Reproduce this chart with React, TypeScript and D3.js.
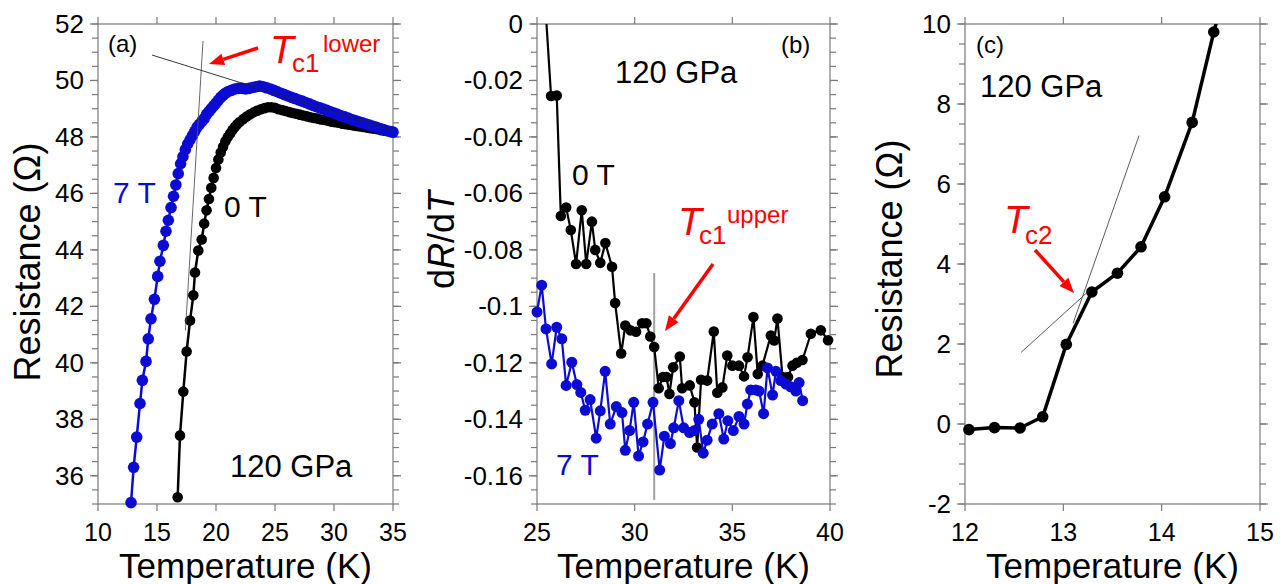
import React from 'react';
import * as d3 from 'd3';

const FONT = '"Liberation Sans", Arial, Helvetica, sans-serif';
const BLUE = '#0b0bd4';
const RED = '#ff0000';
const FRAME = '#7a7a7a';
const TOP = 24;
const BOTTOM = 504;

// ---- panel (a): R(T) at 120 GPa, [T (K), R (ohm)]
const a7T: [number, number][] = [
  [12.8, 35.05], [13.02, 36.3], [13.28, 37.37], [13.56, 38.56], [13.76, 39.38], [14.07, 40.05],
  [14.26, 40.85], [14.49, 41.56], [14.78, 42.25], [15.06, 43.06], [15.25, 43.6], [15.54, 44.16],
  [15.76, 44.66], [15.96, 45.05], [16.19, 45.5], [16.4, 45.9], [16.6, 46.3], [16.8, 46.7],
  [17.0, 47.05], [17.2, 47.3], [17.4, 47.55], [17.6, 47.75], [17.8, 47.9], [18.0, 48.05],
  [18.2, 48.2], [18.4, 48.35], [18.6, 48.45], [18.8, 48.55], [19.0, 48.65], [19.2, 48.8],
  [19.4, 48.9], [19.6, 49.0], [19.8, 49.1], [20.0, 49.2], [20.2, 49.3], [20.4, 49.4],
  [20.6, 49.48], [20.8, 49.55], [21.0, 49.6], [21.3, 49.65], [21.6, 49.7], [21.9, 49.72],
  [22.2, 49.72], [22.5, 49.7], [22.8, 49.72], [23.1, 49.75], [23.4, 49.78], [23.7, 49.8],
  [24.0, 49.78], [24.3, 49.74], [24.6, 49.7], [24.9, 49.65], [25.2, 49.6], [25.5, 49.55],
  [25.8, 49.5], [26.1, 49.45], [26.4, 49.4], [26.7, 49.36], [27.0, 49.31], [27.3, 49.27],
  [27.6, 49.22], [27.9, 49.17], [28.2, 49.12], [28.5, 49.07], [28.8, 49.03], [29.1, 48.99],
  [29.4, 48.94], [29.7, 48.89], [30.0, 48.85], [30.3, 48.8], [30.6, 48.75], [30.9, 48.71],
  [31.2, 48.67], [31.5, 48.62], [31.8, 48.58], [32.1, 48.54], [32.4, 48.5], [32.7, 48.46],
  [33.0, 48.42], [33.3, 48.38], [33.6, 48.34], [33.9, 48.3], [34.2, 48.26], [34.5, 48.22],
  [34.8, 48.19], [35.0, 48.17],
];
const a0T: [number, number][] = [
  [16.75, 35.24], [16.95, 37.43], [17.23, 38.98], [17.51, 40.4], [17.8, 41.5], [18.08, 42.39],
  [18.22, 43.2], [18.5, 43.98], [18.79, 44.37], [19.0, 44.93], [19.2, 45.4], [19.4, 45.8],
  [19.6, 46.2], [19.8, 46.55], [20.0, 46.9], [20.2, 47.2], [20.4, 47.45], [20.6, 47.65],
  [20.8, 47.85], [21.0, 48.0], [21.2, 48.12], [21.4, 48.25], [21.6, 48.35], [21.8, 48.45],
  [22.0, 48.53], [22.3, 48.63], [22.6, 48.72], [22.9, 48.8], [23.2, 48.87], [23.5, 48.93],
  [23.8, 48.98], [24.1, 49.02], [24.4, 49.05], [24.7, 49.05], [25.0, 49.03], [25.3, 48.98],
  [25.6, 48.95], [25.9, 48.92], [26.2, 48.88], [26.5, 48.85], [26.8, 48.82], [27.1, 48.79],
  [27.4, 48.76], [27.7, 48.73], [28.0, 48.7], [28.3, 48.67], [28.6, 48.65], [28.9, 48.62],
  [29.2, 48.6], [29.5, 48.57], [29.8, 48.54], [30.1, 48.52], [30.4, 48.5], [30.7, 48.47],
  [31.0, 48.45], [31.3, 48.43], [31.6, 48.41], [31.9, 48.39], [32.2, 48.37], [32.5, 48.35],
  [32.8, 48.33], [33.1, 48.31], [33.4, 48.29], [33.7, 48.27], [34.0, 48.24], [34.3, 48.22],
  [34.6, 48.2], [35.0, 48.17],
];
// tangent construction lines for Tc1 lower
const aSteep: [number, number][] = [[18.9, 51.4], [17.41, 41.15]];
const aFlat: [number, number][] = [[14.58, 50.9], [35, 48.24]];

// ---- panel (b): dR/dT, [T (K), dR/dT]
const b0T: [number, number][] = [
  [25.45, 0.004], [25.72, -0.0255], [26.01, -0.0253], [26.22, -0.068], [26.49, -0.065],
  [26.73, -0.073], [27.0, -0.085], [27.29, -0.066], [27.52, -0.085], [27.81, -0.07],
  [27.98, -0.08], [28.24, -0.0846], [28.5, -0.0776], [28.84, -0.086], [29.0, -0.0988],
  [29.31, -0.1167], [29.52, -0.1068], [29.78, -0.1085], [30.07, -0.109], [30.38, -0.106],
  [30.6, -0.106], [30.8, -0.1107], [31.0, -0.1144], [31.23, -0.129], [31.45, -0.125],
  [31.63, -0.125], [31.78, -0.131], [31.97, -0.1216], [32.31, -0.1178], [32.43, -0.129],
  [32.82, -0.128], [33.06, -0.134], [33.2, -0.15], [33.4, -0.126], [33.71, -0.1263],
  [34.05, -0.1089], [34.23, -0.1306], [34.49, -0.1287], [34.74, -0.1174], [35.0, -0.121],
  [35.34, -0.121], [35.6, -0.1248], [35.78, -0.118], [36.08, -0.1038], [36.3, -0.124],
  [36.54, -0.121], [36.97, -0.1103], [37.14, -0.1121], [37.31, -0.1043], [37.57, -0.125],
  [37.85, -0.125], [38.08, -0.121], [38.3, -0.12], [38.59, -0.119], [39.02, -0.1097],
  [39.53, -0.1085], [39.9, -0.112],
];
const b7T: [number, number][] = [
  [25.0, -0.102], [25.24, -0.0925], [25.46, -0.108], [25.75, -0.1204], [26.01, -0.1074],
  [26.27, -0.1115], [26.49, -0.128], [26.78, -0.1198], [27.04, -0.1277], [27.24, -0.1305],
  [27.47, -0.1368], [27.72, -0.133], [28.03, -0.1467], [28.24, -0.137], [28.49, -0.123],
  [28.75, -0.1417], [29.06, -0.1355], [29.35, -0.1376], [29.52, -0.151], [29.74, -0.144],
  [29.95, -0.134], [30.2, -0.153], [30.43, -0.148], [30.66, -0.1417], [30.94, -0.134],
  [31.28, -0.158], [31.52, -0.146], [31.83, -0.1486], [32.0, -0.143], [32.26, -0.1334],
  [32.51, -0.143], [32.81, -0.1447], [33.06, -0.144], [33.28, -0.14], [33.51, -0.152],
  [33.71, -0.1474], [33.97, -0.1417], [34.31, -0.138], [34.56, -0.147], [34.77, -0.1405],
  [35.05, -0.144], [35.34, -0.139], [35.6, -0.1417], [35.77, -0.1346], [35.94, -0.1296],
  [36.2, -0.1296], [36.37, -0.13], [36.6, -0.138], [36.8, -0.1218], [37.06, -0.1314],
  [37.23, -0.123], [37.48, -0.1263], [37.74, -0.1275], [37.99, -0.1285], [38.25, -0.13],
  [38.42, -0.127], [38.6, -0.1334],
];
const bTc: [number, number][] = [[31.0, -0.0882], [31.0, -0.1686]];

// ---- panel (c): R(T) near Tc2, [T (K), R (ohm)]
const c0T: [number, number][] = [
  [12.04, -0.14], [12.3, -0.09], [12.56, -0.1], [12.79, 0.18], [13.03, 1.99], [13.29, 3.3],
  [13.55, 3.77], [13.79, 4.43], [14.03, 5.68], [14.31, 7.54], [14.53, 9.8], [14.62, 10.6],
];
const cSteep: [number, number][] = [[13.77, 7.21], [13.1, 2.52]];
const cFlat: [number, number][] = [[12.57, 1.79], [13.27, 3.35]];

type Pt = [number, number];

interface AxisSpec {
  x0: number; x1: number; xDom: [number, number]; yDom: [number, number];
  xTicks: number[]; yMajor: number[]; yMinor: number[]; yFmt: (v: number) => string;
}

function Frame({ sx, sy, spec }: { sx: d3.ScaleLinear<number, number>; sy: d3.ScaleLinear<number, number>; spec: AxisSpec }) {
  const [l, r] = sx.range();
  const [b, t] = sy.range();
  return (
    <g>
      <rect x={l} y={t} width={r - l} height={b - t} fill="none" stroke={FRAME} strokeWidth={1.2} />
      {spec.xTicks.map(v => (
        <g key={'x' + v}>
          <line x1={sx(v)} x2={sx(v)} y1={b} y2={b + 7} stroke={FRAME} strokeWidth={1.2} />
          <line x1={sx(v)} x2={sx(v)} y1={t} y2={t - 7} stroke={FRAME} strokeWidth={1.2} />
          <text x={sx(v)} y={541} textAnchor="middle" fontSize={25}>{v}</text>
        </g>
      ))}
      {spec.yMinor.map(v => (
        <g key={'m' + v}>
          <line x1={l} x2={l - 6} y1={sy(v)} y2={sy(v)} stroke={FRAME} strokeWidth={1.2} />
          <line x1={r} x2={r + 6} y1={sy(v)} y2={sy(v)} stroke={FRAME} strokeWidth={1.2} />
        </g>
      ))}
      {spec.yMajor.map(v => (
        <g key={'y' + v}>
          <line x1={l} x2={l - 8} y1={sy(v)} y2={sy(v)} stroke={FRAME} strokeWidth={1.2} />
          <line x1={r} x2={r + 8} y1={sy(v)} y2={sy(v)} stroke={FRAME} strokeWidth={1.2} />
          <text x={l - 14} y={sy(v) + 9} textAnchor="end" fontSize={26}>{spec.yFmt(v)}</text>
        </g>
      ))}
      <text x={(l + r) / 2} y={578} textAnchor="middle" fontSize={35}>Temperature (K)</text>
    </g>
  );
}

function Series({ data, sx, sy, color, r, w }: { data: Pt[]; sx: any; sy: any; color: string; r: number; w: number }) {
  const line = d3.line<Pt>().x(d => sx(d[0])).y(d => sy(d[1]));
  return (
    <g>
      <path d={line(data) ?? ''} fill="none" stroke={color} strokeWidth={w} strokeLinejoin="round" />
      {data.map((d, i) => <circle key={i} cx={sx(d[0])} cy={sy(d[1])} r={r} fill={color} />)}
    </g>
  );
}

function Seg({ pts, sx, sy, color = '#222', w = 0.8 }: { pts: Pt[]; sx: any; sy: any; color?: string; w?: number }) {
  return <line x1={sx(pts[0][0])} y1={sy(pts[0][1])} x2={sx(pts[1][0])} y2={sy(pts[1][1])} stroke={color} strokeWidth={w} />;
}

function Arrow({ x1, y1, x2, y2 }: { x1: number; y1: number; x2: number; y2: number }) {
  const a = Math.atan2(y2 - y1, x2 - x1);
  const hl = 15, hw = 6;
  const bx = x2 - hl * Math.cos(a), by = y2 - hl * Math.sin(a);
  const px = -Math.sin(a) * hw, py = Math.cos(a) * hw;
  return (
    <g>
      <line x1={x1} y1={y1} x2={bx} y2={by} stroke={RED} strokeWidth={3.5} />
      <polygon points={`${x2},${y2} ${bx + px},${by + py} ${bx - px},${by - py}`} fill={RED} />
    </g>
  );
}

const range = (a: number, b: number, s: number) => d3.range(0, Math.round((b - a) / s) + 1).map(i => +(a + i * s).toFixed(4));

export default function App() {
  // (a)
  const specA: AxisSpec = {
    x0: 98, x1: 393, xDom: [10, 35], yDom: [35, 52],
    xTicks: range(10, 35, 5), yMajor: range(36, 52, 2), yMinor: range(35, 52, 0.5), yFmt: v => String(v),
  };
  const sxA = d3.scaleLinear().domain(specA.xDom).range([specA.x0, specA.x1]);
  const syA = d3.scaleLinear().domain(specA.yDom).range([BOTTOM, TOP]);
  // (b)
  const specB: AxisSpec = {
    x0: 537, x1: 830, xDom: [25, 40], yDom: [-0.17, 0],
    xTicks: range(25, 40, 5), yMajor: range(-0.16, 0, 0.02), yMinor: range(-0.17, 0, 0.005),
    yFmt: v => String(+v.toFixed(2)),
  };
  const sxB = d3.scaleLinear().domain(specB.xDom).range([specB.x0, specB.x1]);
  const syB = d3.scaleLinear().domain(specB.yDom).range([BOTTOM, TOP]);
  // (c)
  const specC: AxisSpec = {
    x0: 965, x1: 1260, xDom: [12, 15], yDom: [-2, 10],
    xTicks: range(12, 15, 1), yMajor: range(-2, 10, 2), yMinor: range(-2, 10, 0.5), yFmt: v => String(v),
  };
  const sxC = d3.scaleLinear().domain(specC.xDom).range([specC.x0, specC.x1]);
  const syC = d3.scaleLinear().domain(specC.yDom).range([BOTTOM, TOP]);

  return (
    <svg width={1287} height={584} style={{ position: 'absolute', left: 0, top: 0, background: '#fff' }}
      fontFamily={FONT} fill="#000">
      <defs>
        <clipPath id="clipB"><rect x={517} y={TOP} width={333} height={500} /></clipPath>
        <clipPath id="clipC"><rect x={945} y={TOP} width={335} height={500} /></clipPath>
      </defs>

      {/* panel (a) */}
      <Frame sx={sxA} sy={syA} spec={specA} />
      <Series data={a0T} sx={sxA} sy={syA} color="#000" r={5.3} w={2.5} />
      <Series data={a7T} sx={sxA} sy={syA} color={BLUE} r={5.8} w={2.5} />
      <Seg pts={aSteep} sx={sxA} sy={syA} color="#555" w={0.9} />
      <Seg pts={aFlat} sx={sxA} sy={syA} color="#222" w={0.9} />
      <text x={40} y={262} fontSize={36} textAnchor="middle" transform="rotate(-90 40 262)">Resistance (Ω)</text>
      <text x={108} y={52} fontSize={24}>(a)</text>
      <Arrow x1={258} y1={48} x2={209} y2={64} />
      <text x={270} y={63} fontSize={39} fontStyle="italic" fill={RED}>T</text>
      <text x={292} y={72} fontSize={26} fill={RED}>c1</text>
      <text x={323} y={52} fontSize={24} fill={RED}>lower</text>
      <text x={113} y={203} fontSize={30} fill={BLUE}>7 T</text>
      <text x={224} y={217} fontSize={30}>0 T</text>
      <text x={230} y={477} fontSize={31}>120 GPa</text>

      {/* panel (b) */}
      <Frame sx={sxB} sy={syB} spec={specB} />
      <Seg pts={bTc} sx={sxB} sy={syB} color="#a0a0a0" w={2} />
      <g clipPath="url(#clipB)">
        <Series data={b0T} sx={sxB} sy={syB} color="#000" r={5.3} w={2.2} />
        <Series data={b7T} sx={sxB} sy={syB} color={BLUE} r={5.5} w={2.2} />
      </g>
      <text x={454} y={240} fontSize={36} textAnchor="middle" transform="rotate(-90 454 240)">
        d<tspan fontStyle="italic">R</tspan>/d<tspan fontStyle="italic">T</tspan>
      </text>
      <text x={781} y={53} fontSize={24}>(b)</text>
      <text x={615} y={83} fontSize={31}>120 GPa</text>
      <text x={572} y={185} fontSize={30}>0 T</text>
      <text x={556} y={475} fontSize={30} fill={BLUE}>7 T</text>
      <Arrow x1={713} y1={264} x2={665} y2={331} />
      <text x={678} y={235} fontSize={39} fontStyle="italic" fill={RED}>T</text>
      <text x={699} y={244} fontSize={26} fill={RED}>c1</text>
      <text x={727} y={223} fontSize={24} fill={RED}>upper</text>

      {/* panel (c) */}
      <Frame sx={sxC} sy={syC} spec={specC} />
      <g clipPath="url(#clipC)">
        <Series data={c0T} sx={sxC} sy={syC} color="#000" r={5.8} w={3.5} />
      </g>
      <Seg pts={cSteep} sx={sxC} sy={syC} color="#333" w={0.8} />
      <Seg pts={cFlat} sx={sxC} sy={syC} color="#333" w={0.8} />
      <text x={902} y={259} fontSize={36} textAnchor="middle" transform="rotate(-90 902 259)">Resistance (Ω)</text>
      <text x={976} y={53} fontSize={24}>(c)</text>
      <text x={980} y={97} fontSize={31}>120 GPa</text>
      <Arrow x1={1035} y1={250} x2={1074} y2={293} />
      <text x={1004} y={233} fontSize={39} fontStyle="italic" fill={RED}>T</text>
      <text x={1025} y={244} fontSize={26} fill={RED}>c2</text>
    </svg>
  );
}
